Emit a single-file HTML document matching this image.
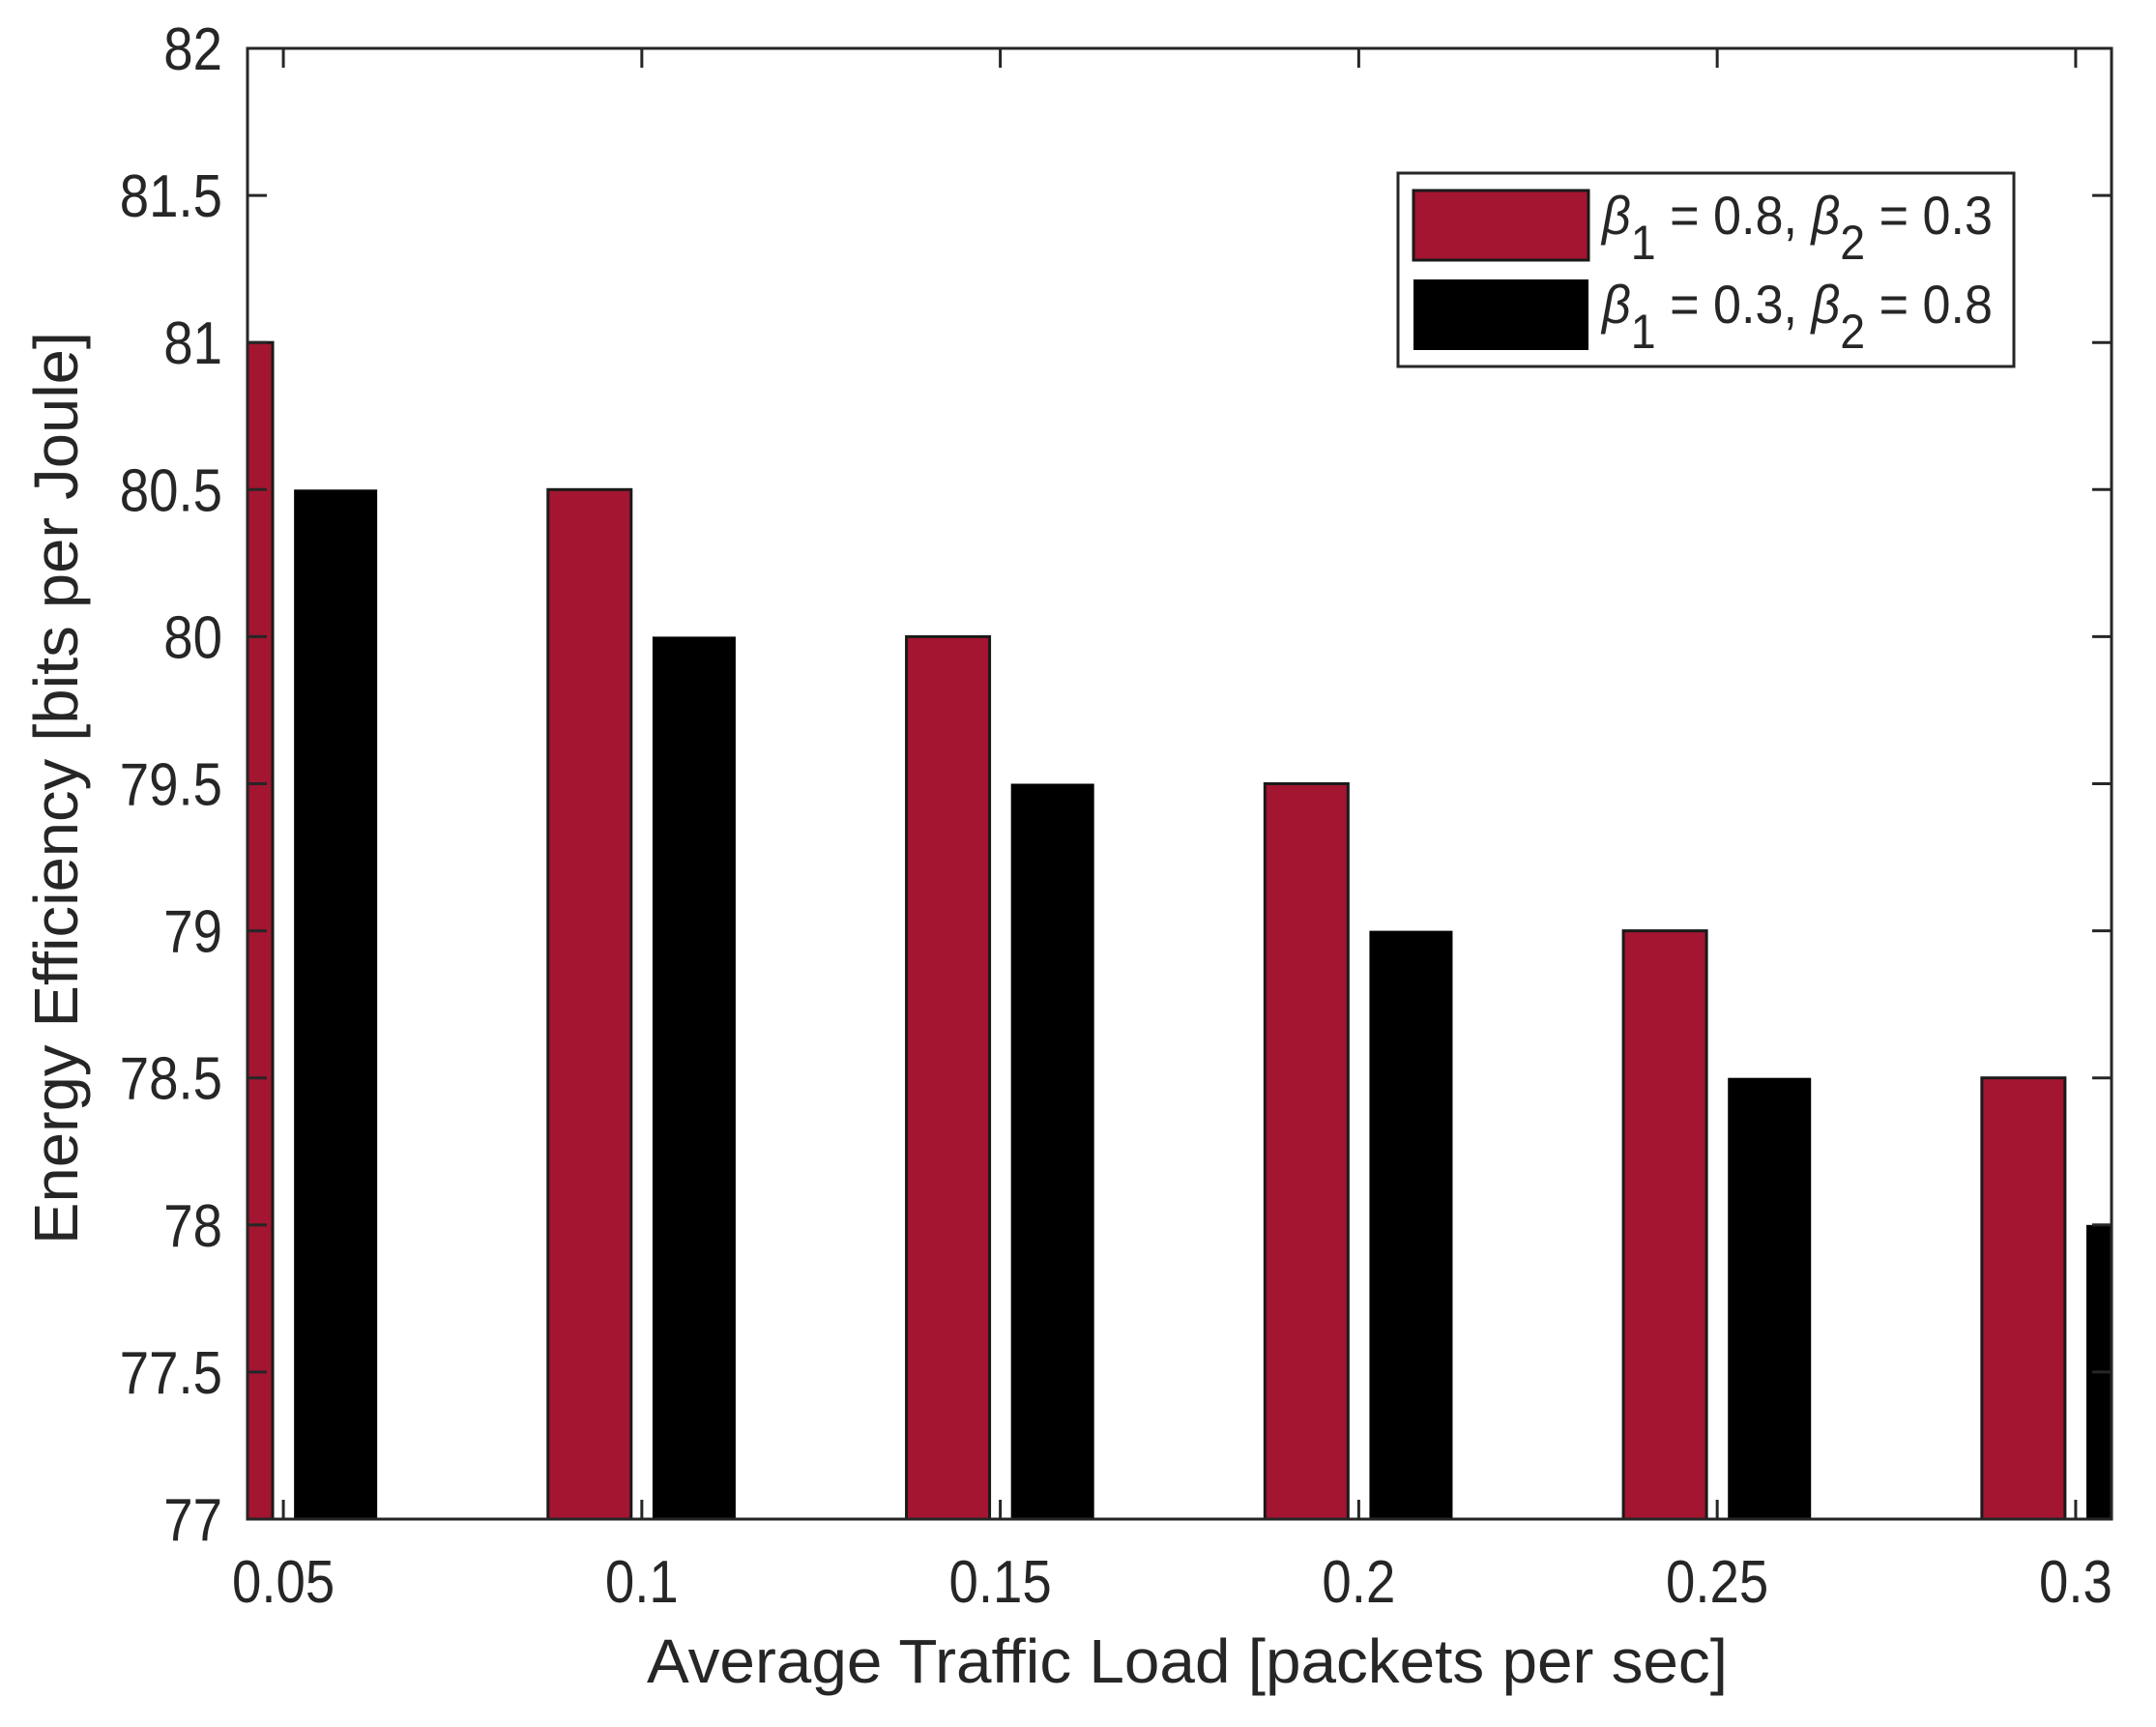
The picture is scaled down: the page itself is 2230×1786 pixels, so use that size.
<!DOCTYPE html>
<html><head><meta charset="utf-8"><style>
html,body{margin:0;padding:0;background:#fff}
svg{display:block}
text{font-family:"Liberation Sans",Arial,sans-serif;fill:#262626}
</style></head><body>
<svg id="chart" width="2230" height="1786" viewBox="0 0 2230 1786" xmlns="http://www.w3.org/2000/svg">
<rect x="0" y="0" width="2230" height="1786" fill="#fff"/>
<g id="bars"></g>
<g id="axes"></g>
<text x="1228" y="1740" font-size="64" text-anchor="middle" textLength="1118" lengthAdjust="spacingAndGlyphs">Average Traffic Load [packets per sec]</text>
<text transform="translate(80,815) rotate(-90)" font-size="64" text-anchor="middle" textLength="944" lengthAdjust="spacingAndGlyphs">Energy Efficiency [bits per Joule]</text>
<g>
<rect x="1446" y="179" width="637" height="200" fill="#fff" stroke="#262626" stroke-width="3"/>
<rect x="1462" y="197" width="181" height="72" fill="#a31530" stroke="#1a1a1a" stroke-width="3"/>
<rect x="1462" y="289" width="181" height="73" fill="#000"/>
<text x="1657" y="242" font-size="56" textLength="404" lengthAdjust="spacingAndGlyphs" fill="#000"><tspan font-style="italic">β</tspan><tspan dy="26" font-size="50">1</tspan><tspan dy="-26"> = 0.8, </tspan><tspan font-style="italic">β</tspan><tspan dy="26" font-size="50">2</tspan><tspan dy="-26"> = 0.3</tspan></text>
<text x="1657" y="334" font-size="56" textLength="404" lengthAdjust="spacingAndGlyphs" fill="#000"><tspan font-style="italic">β</tspan><tspan dy="26" font-size="50">1</tspan><tspan dy="-26"> = 0.3, </tspan><tspan font-style="italic">β</tspan><tspan dy="26" font-size="50">2</tspan><tspan dy="-26"> = 0.8</tspan></text>
</g>
</svg>
<script>
const categories = [0.05, 0.1, 0.15, 0.2, 0.25, 0.3];
const series1 = [81, 80.5, 80, 79.5, 79, 78.5];
const series2 = [80.5, 80, 79.5, 79, 78.5, 78];
const yTicks = [77, 77.5, 78, 78.5, 79, 79.5, 80, 80.5, 81, 81.5, 82];
const yTickLabels = ["77","77.5","78","78.5","79","79.5","80","80.5","81","81.5","82"];
const xTickLabels = ["0.05","0.1","0.15","0.2","0.25","0.3"];

const NS = "http://www.w3.org/2000/svg";
const L = 256, R = 2184, T = 50, B = 1571;
const xMin = 0.045, xMax = 0.305, yMin = 77, yMax = 82;
const xs = v => L + (v - xMin) / (xMax - xMin) * (R - L);
const ys = v => B - (v - yMin) / (yMax - yMin) * (B - T);
const barW = 0.0116, off = 0.00729;

function mk(tag, attrs, parent) {
  const e = document.createElementNS(NS, tag);
  for (const k in attrs) e.setAttribute(k, attrs[k]);
  parent.appendChild(e);
  return e;
}
function squeeze(t) {
  const w = t.getComputedTextLength();
  t.setAttribute('textLength', (w * 0.88).toFixed(1));
  t.setAttribute('lengthAdjust', 'spacingAndGlyphs');
}
const bars = document.getElementById('bars');
const clip = mk('clipPath', {id: 'pc'}, bars);
mk('rect', {x: L, y: T, width: R - L, height: B - T}, clip);
bars.setAttribute('clip-path', 'url(#pc)');

categories.forEach((c, i) => {
  const x1 = xs(c - off - barW / 2), x2 = xs(c - off + barW / 2);
  const r = mk('rect', {x: x1, y: ys(series1[i]), width: x2 - x1, height: ys(yMin) - ys(series1[i]), fill: '#a31530', stroke: '#1a1a1a', 'stroke-width': 3}, bars);
  
  
  const b1 = xs(c + off - barW / 2), b2 = xs(c + off + barW / 2);
  const r2 = mk('rect', {x: b1, y: ys(series2[i]), width: b2 - b1, height: ys(yMin) - ys(series2[i]), fill: '#000'}, bars);
  
  
});

const axes = document.getElementById('axes');
const tl = 20;
yTicks.forEach((v, i) => {
  const y = ys(v);
  mk('line', {x1: L, y1: y, x2: L + tl, y2: y, stroke: '#262626', 'stroke-width': 3}, axes);
  mk('line', {x1: R, y1: y, x2: R - tl, y2: y, stroke: '#262626', 'stroke-width': 3}, axes);
  const t = mk('text', {x: 230, y: y + 22, 'font-size': 62, 'text-anchor': 'end'}, axes);
  t.textContent = yTickLabels[i];
  
  
  squeeze(t);
});
categories.forEach((c, i) => {
  const x = xs(c);
  mk('line', {x1: x, y1: B, x2: x, y2: B - tl, stroke: '#262626', 'stroke-width': 3}, axes);
  mk('line', {x1: x, y1: T, x2: x, y2: T + tl, stroke: '#262626', 'stroke-width': 3}, axes);
  const t = mk('text', {x: x, y: 1657, 'font-size': 62, 'text-anchor': 'middle'}, axes);
  t.textContent = xTickLabels[i];
  
  
  squeeze(t);
});
const frame = mk('rect', {x: L, y: T, width: R - L, height: B - T, fill: 'none', stroke: '#262626', 'stroke-width': 3}, axes);


</script>
</body></html>
